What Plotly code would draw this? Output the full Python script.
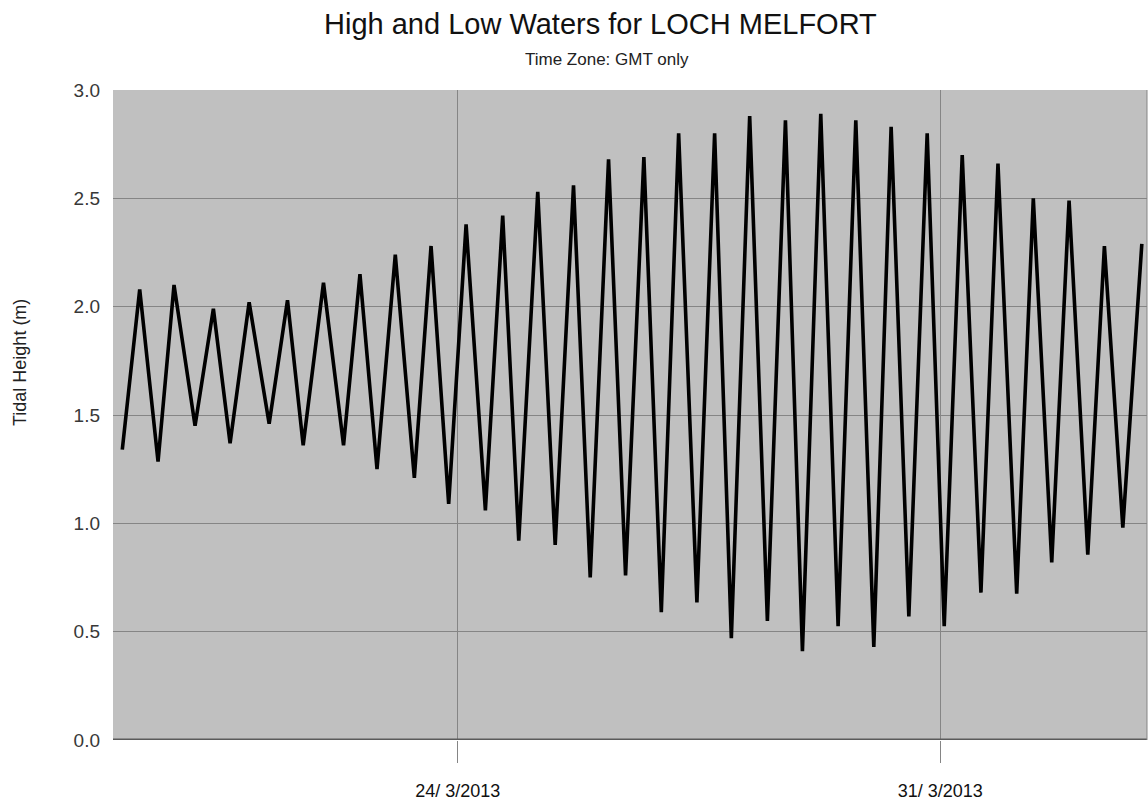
import plotly.graph_objects as go

# High/low water times (GMT) and heights (m)
times = [
    "2013-03-19 03:14", "2013-03-19 09:18", "2013-03-19 15:41", "2013-03-19 21:15",
    "2013-03-20 04:34", "2013-03-20 10:57", "2013-03-20 16:46", "2013-03-20 23:24",
    "2013-03-21 06:22", "2013-03-21 12:45", "2013-03-21 18:13", "2013-03-22 01:17",
    "2013-03-22 08:16", "2013-03-22 13:59", "2013-03-22 19:55", "2013-03-23 02:17",
    "2013-03-23 08:55", "2013-03-23 14:44", "2013-03-23 20:52", "2013-03-24 02:56",
    "2013-03-24 09:39", "2013-03-24 15:41", "2013-03-24 21:16", "2013-03-25 03:53",
    "2013-03-25 09:57", "2013-03-25 16:20", "2013-03-25 22:09", "2013-03-26 04:32",
    "2013-03-26 10:27", "2013-03-26 16:50", "2013-03-26 22:54", "2013-03-27 04:56",
    "2013-03-27 11:18", "2013-03-27 17:28", "2013-03-27 23:17", "2013-03-28 05:40",
    "2013-03-28 11:50", "2013-03-28 18:07", "2013-03-29 00:02", "2013-03-29 06:25",
    "2013-03-29 12:27", "2013-03-29 18:37", "2013-03-30 00:53", "2013-03-30 06:55",
    "2013-03-30 13:05", "2013-03-30 19:28", "2013-03-31 01:24", "2013-03-31 07:40",
    "2013-03-31 14:11", "2013-03-31 20:07", "2013-04-01 02:38", "2013-04-01 08:25",
    "2013-04-01 14:50", "2013-04-01 20:52", "2013-04-02 03:23", "2013-04-02 09:10",
    "2013-04-02 15:35", "2013-04-02 22:12",
]
heights = [
    1.34, 2.08, 1.285, 2.10, 1.45, 1.99, 1.37, 2.02, 1.46, 2.03,
    1.36, 2.11, 1.36, 2.15, 1.25, 2.24, 1.21, 2.28, 1.09, 2.38,
    1.06, 2.42, 0.92, 2.53, 0.90, 2.56, 0.75, 2.68, 0.76, 2.69,
    0.59, 2.80, 0.635, 2.80, 0.47, 2.88, 0.55, 2.86, 0.41, 2.89,
    0.525, 2.86, 0.43, 2.83, 0.57, 2.80, 0.525, 2.70, 0.68, 2.66,
    0.675, 2.50, 0.82, 2.49, 0.855, 2.28, 0.98, 2.29,
]

x_range = ["2013-03-19 00:00", "2013-04-03 00:00"]
x_tickvals = ["2013-03-24", "2013-03-31"]
x_ticktext = ["24/ 3/2013", "31/ 3/2013"]
y_tickvals = [0.0, 0.5, 1.0, 1.5, 2.0, 2.5, 3.0]

title_text = "High and Low Waters for LOCH MELFORT"
subtitle_text = "Time Zone: GMT only"
y_title = "Tidal Height (m)"

FONT = "Liberation Sans, Arial, sans-serif"
GRID = "#858585"

fig = go.Figure()
fig.add_trace(go.Scatter(
    x=times, y=heights, mode="lines",
    line=dict(color="#000000", width=3.6),
    showlegend=False, hoverinfo="skip",
))

fig.update_layout(
    width=1148, height=803,
    margin=dict(l=113, r=1, t=90, b=63, autoexpand=False),
    paper_bgcolor="#ffffff",
    plot_bgcolor="#c0c0c0",
    font=dict(family=FONT, color="#222222"),
    showlegend=False,
    xaxis=dict(
        type="date", range=x_range, automargin=False,
        tickvals=x_tickvals, ticktext=x_ticktext,
        showgrid=True, gridcolor=GRID, gridwidth=1,
        ticks="outside", ticklen=22, tickcolor=GRID, tickwidth=1,
        ticklabelstandoff=12,
        tickfont=dict(family=FONT, size=18, color="#111111"),
        zeroline=False, showline=False,
    ),
    yaxis=dict(
        range=[0, 3], tickvals=y_tickvals, tickformat=".1f", automargin=False,
        showgrid=True, gridcolor=GRID, gridwidth=1,
        ticks="", ticklabelstandoff=12,
        tickfont=dict(family=FONT, size=19, color="#383838"),
        zeroline=False, showline=False,
    ),
    shapes=[
        dict(type="line", xref="paper", yref="y", x0=0, x1=1, y0=0, y1=0,
             line=dict(color="#5a5a5a", width=3), layer="above"),
        dict(type="line", xref="paper", yref="paper", x0=1, x1=1, y0=0, y1=1,
             line=dict(color=GRID, width=1), layer="above"),
    ],
    annotations=[
        dict(text=title_text, xref="paper", yref="paper", x=0.471, y=1.0,
             xanchor="center", yanchor="bottom", yshift=48, showarrow=False,
             font=dict(family=FONT, size=29, color="#111111")),
        dict(text=subtitle_text, xref="paper", yref="paper", x=0.478, y=1.0,
             xanchor="center", yanchor="bottom", yshift=19, showarrow=False,
             font=dict(family=FONT, size=17, color="#222222")),
        dict(text=y_title, xref="paper", yref="paper", x=0, y=0.58,
             xanchor="center", yanchor="middle", xshift=-93, textangle=-90,
             showarrow=False,
             font=dict(family=FONT, size=18, color="#222222")),
    ],
)

fig.write_html("out.html")
